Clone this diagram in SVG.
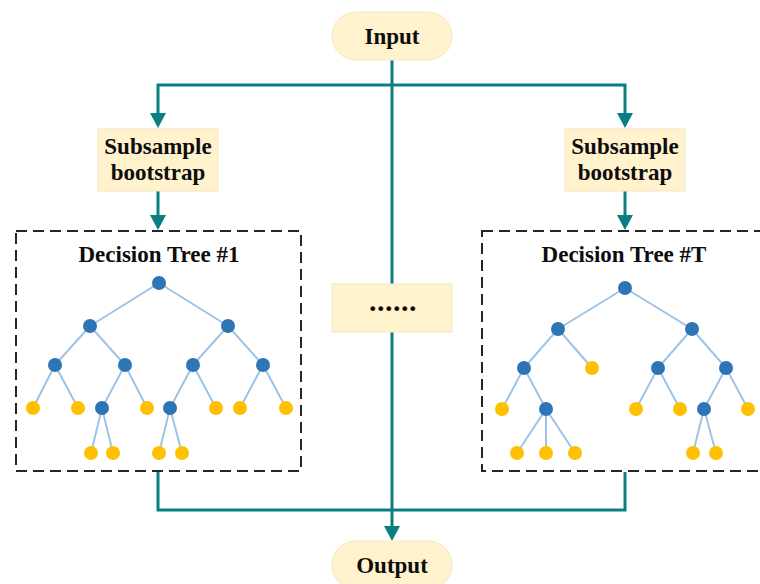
<svg xmlns="http://www.w3.org/2000/svg" width="760" height="584" viewBox="0 0 760 584">
<style>
.box{fill:#FFF2CC;stroke:#F3E5C0;stroke-width:1}
.lbl{font-family:"Liberation Serif","Times New Roman",serif;font-weight:bold;font-size:23px;fill:#0D0D0D;text-anchor:middle}
.con{fill:none;stroke:#0A7F7F;stroke-width:3}
.head{fill:#0A7F7F}
.dash{fill:none;stroke:#262626;stroke-width:2;stroke-dasharray:11 6}
.e{stroke:#9DC3E6;stroke-width:2;fill:none}
.b{fill:#2E75B6}
.y{fill:#FFC000}
</style>
<rect width="760" height="584" fill="#FFFFFF"/>
<g id="connectors">
<path class="con" d="M392,60 V530"/>
<path class="con" d="M392,85 H158 V118"/>
<path class="con" d="M392,85 H625 V118"/>
<path class="con" d="M158,191 V220"/>
<path class="con" d="M625,191 V220"/>
<path class="con" d="M158,472 V510 H625 V472"/>
<polygon class="head" points="150,113 166,113 158,128"/>
<polygon class="head" points="617,113 633,113 625,128"/>
<polygon class="head" points="150,215 166,215 158,230"/>
<polygon class="head" points="617,215 633,215 625,230"/>
<polygon class="head" points="384,526 400,526 392,541"/>
</g>
<g id="input">
<rect class="box" x="332" y="12" width="120" height="48" rx="24"/>
<text class="lbl" x="392" y="44">Input</text>
</g>
<g id="subsample1">
<rect class="box" x="98" y="129" width="120" height="62"/>
<text class="lbl" x="158" y="154">Subsample</text>
<text class="lbl" x="158" y="180">bootstrap</text>
</g>
<g id="subsampleT">
<rect class="box" x="565" y="129" width="120" height="62"/>
<text class="lbl" x="625" y="154">Subsample</text>
<text class="lbl" x="625" y="180">bootstrap</text>
</g>
<g id="ellipsis">
<rect class="box" x="332" y="284" width="120" height="48"/>
<text class="lbl" x="393" y="311" style="font-size:30px;letter-spacing:0.5px">......</text>
</g>
<g id="output">
<rect class="box" x="332" y="541" width="120" height="48" rx="24"/>
<text class="lbl" x="392" y="573">Output</text>
</g>
<g id="tree1">
<rect class="dash" x="16" y="231" width="285" height="240"/>
<text class="lbl" x="159" y="262">Decision Tree #1</text>
<path class="e" d="M159,283 L90,326 M159,283 L228,326 M90,326 L55,365 M90,326 L125,365 M228,326 L193,365 M228,326 L263,365 M55,365 L33,408 M55,365 L78,408 M125,365 L102,408 M125,365 L147,408 M193,365 L170,408 M193,365 L216,408 M263,365 L240,408 M263,365 L286,408 M102,408 L91,453 M102,408 L113,453 M170,408 L159,453 M170,408 L182,453"/>
<circle class="b" cx="159" cy="283" r="7"/>
<circle class="b" cx="90" cy="326" r="7"/>
<circle class="b" cx="228" cy="326" r="7"/>
<circle class="b" cx="55" cy="365" r="7"/>
<circle class="b" cx="125" cy="365" r="7"/>
<circle class="b" cx="193" cy="365" r="7"/>
<circle class="b" cx="263" cy="365" r="7"/>
<circle class="y" cx="33" cy="408" r="7"/>
<circle class="y" cx="78" cy="408" r="7"/>
<circle class="b" cx="102" cy="408" r="7"/>
<circle class="y" cx="147" cy="408" r="7"/>
<circle class="b" cx="170" cy="408" r="7"/>
<circle class="y" cx="216" cy="408" r="7"/>
<circle class="y" cx="240" cy="408" r="7"/>
<circle class="y" cx="286" cy="408" r="7"/>
<circle class="y" cx="91" cy="453" r="7"/>
<circle class="y" cx="113" cy="453" r="7"/>
<circle class="y" cx="159" cy="453" r="7"/>
<circle class="y" cx="182" cy="453" r="7"/>
</g>
<g id="treeT">
<rect class="dash" x="482" y="231" width="290" height="240"/>
<text class="lbl" x="624" y="262">Decision Tree #T</text>
<path class="e" d="M625,288 L558,329 M625,288 L692,329 M558,329 L524,368 M558,329 L592,368 M692,329 L658,368 M692,329 L726,368 M524,368 L502,409 M524,368 L546,409 M658,368 L636,409 M658,368 L680,409 M726,368 L704,409 M726,368 L748,409 M546,409 L517,453 M546,409 L546,453 M546,409 L575,453 M704,409 L693,453 M704,409 L716,453"/>
<circle class="b" cx="625" cy="288" r="7"/>
<circle class="b" cx="558" cy="329" r="7"/>
<circle class="b" cx="692" cy="329" r="7"/>
<circle class="b" cx="524" cy="368" r="7"/>
<circle class="y" cx="592" cy="368" r="7"/>
<circle class="b" cx="658" cy="368" r="7"/>
<circle class="b" cx="726" cy="368" r="7"/>
<circle class="y" cx="502" cy="409" r="7"/>
<circle class="b" cx="546" cy="409" r="7"/>
<circle class="y" cx="636" cy="409" r="7"/>
<circle class="y" cx="680" cy="409" r="7"/>
<circle class="b" cx="704" cy="409" r="7"/>
<circle class="y" cx="748" cy="409" r="7"/>
<circle class="y" cx="517" cy="453" r="7"/>
<circle class="y" cx="546" cy="453" r="7"/>
<circle class="y" cx="575" cy="453" r="7"/>
<circle class="y" cx="693" cy="453" r="7"/>
<circle class="y" cx="716" cy="453" r="7"/>
</g>
</svg>
